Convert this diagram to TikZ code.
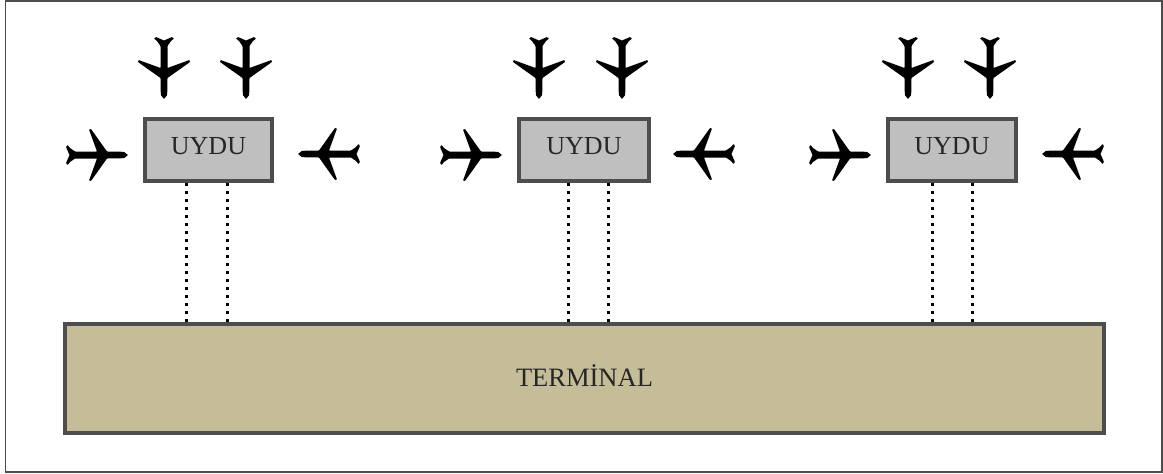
\documentclass[tikz,border=0pt]{standalone}
\usepackage{fontspec}
\setmainfont{Liberation Serif}
\definecolor{frameC}{HTML}{4D4D4D}
\definecolor{satC}{HTML}{BFBFBF}
\definecolor{termC}{HTML}{C4BD97}
\tikzset{
  x=1pt,y=-1pt,
  sat/.style={draw=frameC,line width=3.5pt,fill=satC,minimum height=62pt,inner sep=0pt,text=black!85},
  termbox/.style={draw=frameC,line width=3.5pt,fill=termC,minimum width=1039pt,minimum height=109pt,inner sep=0pt,text=black!85},
  link/.style={line width=3pt,black,dash pattern=on 3pt off 5pt},
  plane/.pic={
    \fill[black,rounded corners=0.6pt]
      (3.5,0) -- (0,-8) -- (1.5,-10) -- (4,-7) -- (9,-3.5) -- (31,-3.5) -- (23,-25.5) -- (25,-26) -- (41,-3.5) -- (58,-3.2) -- (62,0)
      -- (58,3.2) -- (41,3.5) -- (25,26) -- (23,25.5) -- (31,3.5) -- (9,3.5) -- (4,7) -- (1.5,10) -- (0,8) -- cycle;
  }
}
\begin{document}
\begin{tikzpicture}
\useasboundingbox (0,0) rectangle (1163,474);
\fill[white] (0,0) rectangle (1163,474);
\draw[frameC,line width=1.8pt] (5.5,0.8) rectangle (1162,472);
\node[termbox] (term) at (584.5,378.5) {};
\node[font=\fontsize{26.5}{30}\selectfont,text=black!85,inner sep=0pt] (termlabel) at (584.5,376) {TERMİNAL};
\node[sat,minimum width=127pt] (s1) at (208.5,150) {};
\node[sat,minimum width=130pt] (s2) at (584,150) {};
\node[sat,minimum width=128pt] (s3) at (952,150) {};
\foreach \s in {s1,s2,s3}
  \node[font=\fontsize{26}{30}\selectfont,text=black!85,inner sep=0pt] (\s label) at ([yshift=3.5pt]\s) {UYDU};
\foreach \s/\a/\b in {s1/-22.5/18.5,s2/-16/24,s3/-20/20}{
  \draw[link] ([xshift=\a pt]\s.south) coordinate (p) -- (p |- term.north);
  \draw[link] ([xshift=\b pt]\s.south) coordinate (q) -- (q |- term.north);
}
\foreach \l/\r/\ta/\tb in {66/360/164/246, 440/735/539/622, 809/1104/908/990}{
  \pic at (\l,155) {plane};
  \pic at (\r,154) [rotate=180] {plane};
  \pic at (\ta,37) [rotate=-90] {plane};
  \pic at (\tb,37) [rotate=-90] {plane};
}
\end{tikzpicture}
\end{document}
